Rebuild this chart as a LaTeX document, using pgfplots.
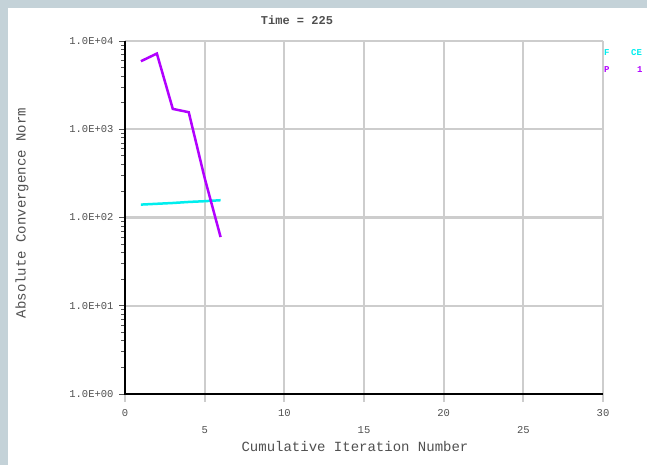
\documentclass[border=0pt]{standalone}
\usepackage{pgfplots}
\pgfplotsset{compat=1.18}
\usepackage{fontspec}
\setmainfont{Liberation Mono}
\definecolor{bgblue}{RGB}{196,210,216}
\definecolor{gridgray}{RGB}{205,205,205}
\definecolor{mag}{RGB}{178,0,255}
\definecolor{cy}{RGB}{0,238,238}
\definecolor{txt}{RGB}{80,80,80}
\begin{document}
\begin{tikzpicture}
\useasboundingbox (0pt,0pt) rectangle (647pt,465pt);
\clip (0pt,0pt) rectangle (647pt,465pt);
\fill[bgblue] (0pt,0pt) rectangle (647pt,465pt);
\fill[white] (8pt,0pt) rectangle (647pt,457pt);
\begin{axis}[
  at={(125pt,71pt)}, anchor=south west,
  scale only axis, width=478pt, height=353pt,
  xmin=0, xmax=30, ymode=log, ymin=1, ymax=10000,
  axis line style={draw=none},
  xtick={0,10,20,30}, xticklabels={0,10,20,30},
  extra x ticks={5,15,25}, extra x tick labels={5,15,25},
  extra x tick style={grid=major, tick label style={yshift=-17pt}},
  ytick={1,10,100,1000,10000},
  yticklabels={1.0E+00,1.0E+01,1.0E+02,1.0E+03,1.0E+04},
  tick label style={font=\fontsize{10.5}{10.5}\selectfont, text=txt},
  xticklabel style={yshift=-5pt},
  yticklabel style={xshift=-1pt},
  grid=major, major grid style={gridgray, line width=2.3pt},
  xtick pos=left, ytick pos=left,
  tick align=outside, major tick length=7pt,
  tick style={draw=none},
  clip=false,
]
\pgfplotsinvokeforeach{0,5,10,15,20,25,30}{
  \draw[gridgray, line width=2pt] (axis cs:#1,1) -- ++(0pt,-8pt);
}
\pgfplotsinvokeforeach{2,3,4,5,6,7,8,9,20,30,40,50,60,70,80,90,200,300,400,500,600,700,800,900,2000,3000,4000,5000,6000,7000,8000,9000}{
  \draw[txt, line width=0.8pt] (axis cs:0,#1) -- ++(-4pt,0pt);
}
\pgfplotsinvokeforeach{1,10,100,1000,10000}{
  \draw[txt, line width=0.8pt] (axis cs:0,#1) -- ++(-6pt,0pt);
}
\addplot[cy, line width=2.5pt] coordinates {(1,140) (2,143) (3,146) (4,150) (5,153) (6,157)};
\addplot[mag, line width=2.5pt] coordinates {(1,5900) (2,7200) (3,1700) (4,1560) (5,280) (6,60)};
\draw[black, line width=2.5pt] (rel axis cs:0,1) -- (rel axis cs:0,0) -- (rel axis cs:1,0);
\end{axis}
\node[text=txt, font=\fontsize{12}{12}\selectfont\bfseries] at (297pt,445pt) {Time = 225};
\node[text=txt, font=\fontsize{14}{14}\selectfont] at (355pt,19pt) {Cumulative Iteration Number};
\node[text=txt, font=\fontsize{14}{14}\selectfont, rotate=90] at (22pt,252pt) {Absolute Convergence Norm};
\node[text=cy, anchor=west, font=\fontsize{9}{9}\selectfont\bfseries, inner sep=0pt] at (604pt,412pt) {F};
\node[text=cy, anchor=west, font=\fontsize{9}{9}\selectfont\bfseries, inner sep=0pt] at (631pt,412pt) {CE};
\node[text=mag, anchor=west, font=\fontsize{9}{9}\selectfont\bfseries, inner sep=0pt] at (604pt,395pt) {P};
\node[text=mag, anchor=west, font=\fontsize{9}{9}\selectfont\bfseries, inner sep=0pt] at (637pt,395pt) {1};
\end{tikzpicture}
\end{document}
